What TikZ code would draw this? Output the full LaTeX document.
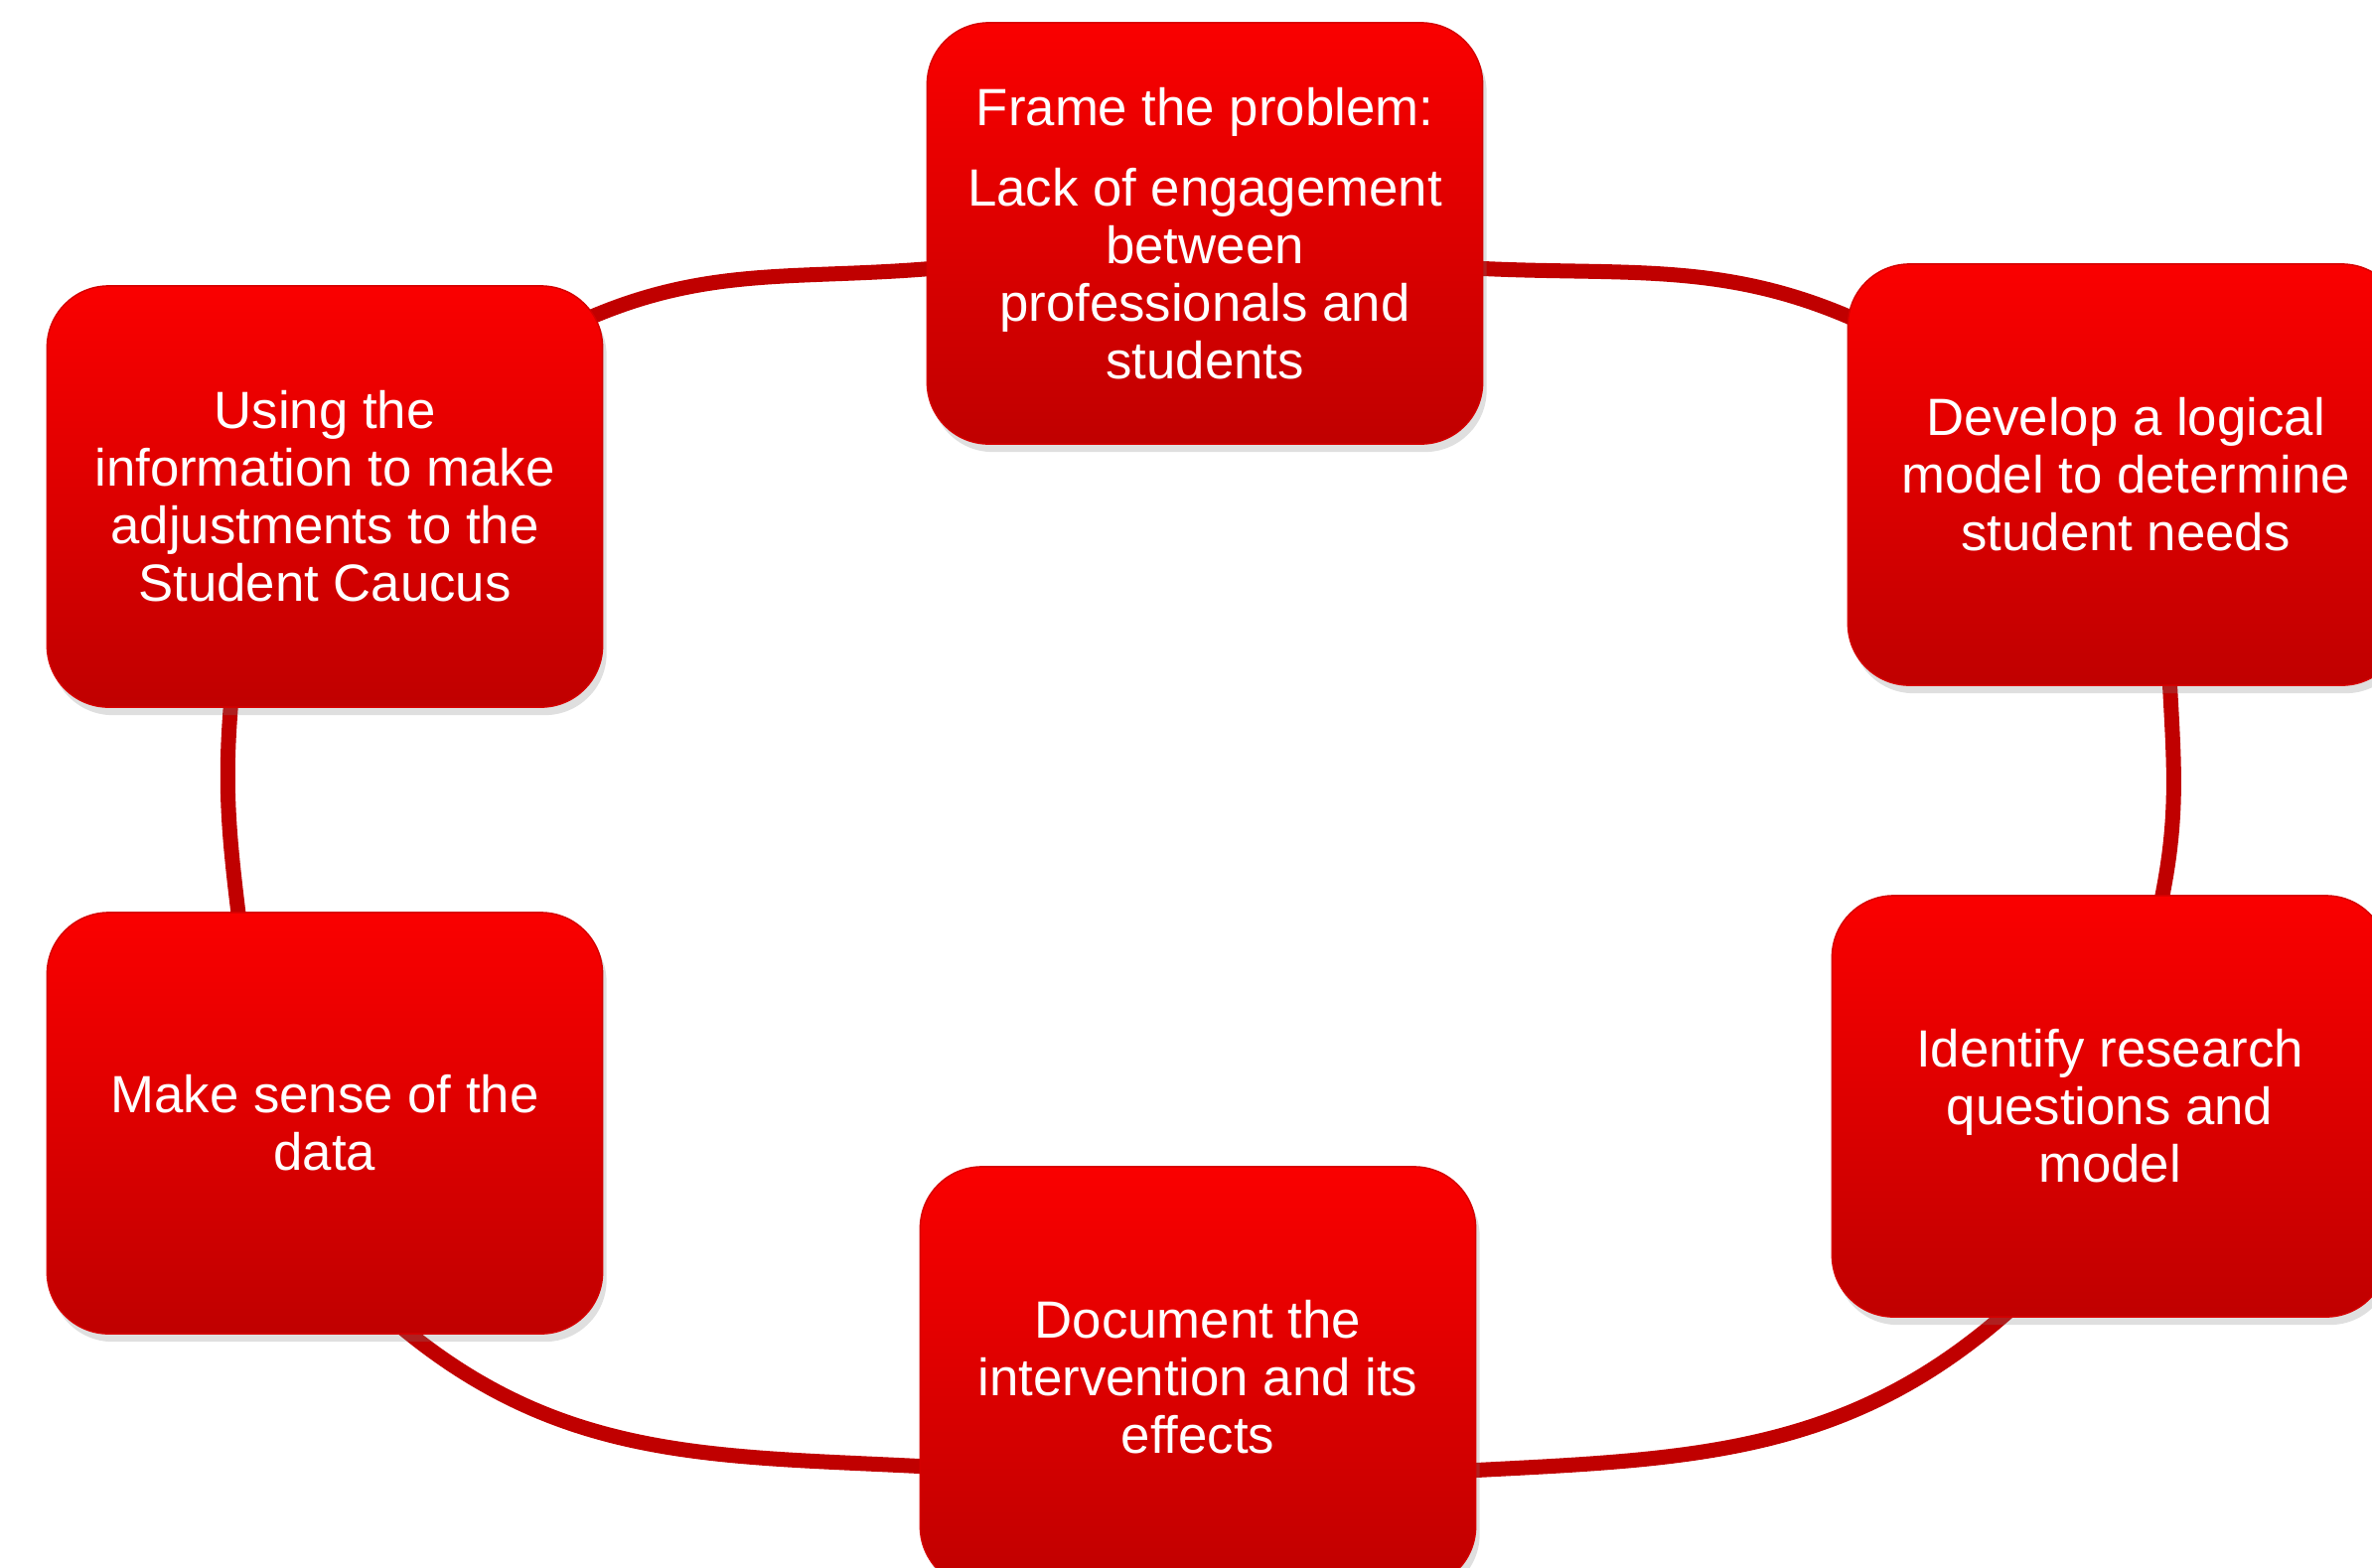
\documentclass[tikz,border=0pt]{standalone}
\usepackage{fontspec}
\setmainfont{Liberation Sans}
\usepackage{xcolor}
\usetikzlibrary{backgrounds,shadows}
\definecolor{boxtop}{RGB}{250,0,0}
\definecolor{boxbottom}{RGB}{192,0,0}
\definecolor{boxedge}{RGB}{212,0,0}
\definecolor{ringred}{RGB}{192,0,0}
\tikzset{%
phase/.style={rectangle,rounded corners=0.62cm,minimum width=5.59cm,minimum height=4.24cm,inner sep=2pt,top color=boxtop,bottom color=boxbottom,draw=boxedge,line width=0.4pt,text=white,align=center,font=\fontsize{15}{16.5}\selectfont,drop shadow={opacity=0.25,shadow xshift=0.4mm,shadow yshift=-0.8mm}},
ring/.style={draw=ringred,line width=1.5mm}
}

\begin{document}
\begin{tikzpicture}[x=0.01cm,y=0.01cm]
  \useasboundingbox (0,0) rectangle (2388,-1578);

  \node[phase] (frame) at (1213,-235) {Frame the problem:\\[6.5pt]Lack of engagement\\between\\professionals and\\students};
  \node[phase] (logic) at (2140,-478) {Develop a logical\\model to determine\\student needs};
  \node[phase] (quest) at (2124,-1114) {Identify research\\questions and\\model};
  \node[phase] (doc) at (1206,-1387) {Document the\\intervention and its\\effects};
  \node[phase] (sense) at (327,-1131) {Make sense of the\\data};
  \node[phase] (adjust) at (327,-500) {Using the\\information to make\\adjustments to the\\Student Caucus};

  % the cycle, under the boxes
  \begin{scope}[on background layer]
    \draw[ring] ([shift={(-30,-40)}]adjust.north east) to[out=25,in=185] ([shift={(10,-35)}]frame.west);
    \draw[ring] ([shift={(-10,-35)}]frame.east) to[out=-3,in=155] ([shift={(20,-62)}]logic.north west);
    \draw[ring] ([shift={(44,10)}]logic.south) to[out=-87,in=78] ([shift={(51,-10)}]quest.north);
    \draw[ring] ([shift={(-98,10)}]quest.south) to[out=-138,in=3] ([shift={(-10,-94)}]doc.east);
    \draw[ring] ([shift={(10,-90)}]doc.west) to[out=177,in=-40] ([shift={(74,10)}]sense.south);
    \draw[ring] ([shift={(-86,-10)}]sense.north) to[out=97,in=265] ([shift={(-94,10)}]adjust.south);
  \end{scope}
\end{tikzpicture}
\end{document}
